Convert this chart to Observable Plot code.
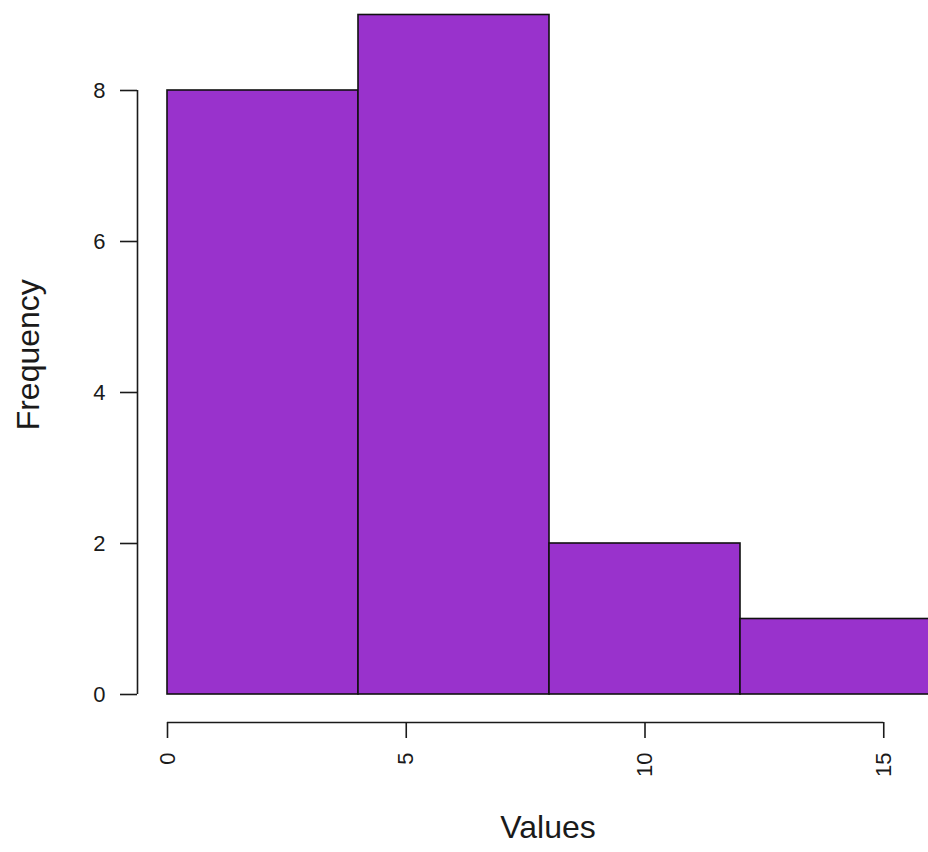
<!DOCTYPE html>
<html>
<head>
<meta charset="utf-8">
<script src="https://cdn.jsdelivr.net/npm/d3@7"></script>
<script src="https://cdn.jsdelivr.net/npm/@observablehq/plot@0.6"></script>
<style>
  html, body { margin: 0; padding: 0; background: #fff; }
  #chart svg { display: block; }
</style>
</head>
<body>
<div id="chart"></div>
<script>
// Histogram data
const binStart = [0, 4, 8, 12];
const binEnd = [4, 8, 12, 16];
const counts = [8, 9, 2, 1];
const xTicks = [0, 5, 10, 15];
const yTicks = [0, 2, 4, 6, 8];
const xTitle = "Values";
const yTitle = "Frequency";

const bins = binStart.map((s, i) => ({x1: s, x2: binEnd[i], count: counts[i]}));

const font = "'Liberation Sans', Arial, Helvetica, sans-serif";
const ink = "#1a1a1a";

const chart = Plot.plot({
  width: 928,
  height: 852,
  marginLeft: 167,
  marginRight: 0,
  marginTop: 14.5,
  marginBottom: 158,
  x: {domain: [0, 16], range: [167, 931]},
  y: {domain: [0, 9]},
  style: {fontFamily: font, fontSize: "22px", color: ink, background: "#fff"},
  marks: [
    Plot.rectY(bins, {x1: "x1", x2: "x2", y: "count", fill: "#9932CC", stroke: "#111", strokeWidth: 1.6}),
    // y axis
    Plot.ruleX([0], {y1: yTicks[0], y2: yTicks[yTicks.length - 1], dx: -30, stroke: ink, strokeWidth: 1.6}),
    Plot.axisY({anchor: "left", ticks: yTicks, tickSize: 17, tickPadding: 15, dx: -30, label: null,
      stroke: ink, strokeWidth: 1.6, fill: ink, fontSize: 22, tickFormat: d => String(d)}),
    // x axis
    Plot.ruleY([0], {x1: xTicks[0], x2: xTicks[xTicks.length - 1], dy: 28, stroke: ink, strokeWidth: 1.6}),
    Plot.axisX({anchor: "bottom", ticks: xTicks, tickSize: 16, dy: 28, label: null,
      stroke: ink, strokeWidth: 1.6, tickFormat: () => ""}),
    Plot.text(xTicks, {x: d => d, y: 0, dy: 58, rotate: -90, textAnchor: "end", lineAnchor: "middle",
      text: d => String(d), fill: ink, fontSize: 22}),
    // titles
    Plot.text([xTitle], {frameAnchor: "bottom", dy: 133, text: d => d, fontSize: 32, fill: ink,
      textAnchor: "middle", lineAnchor: "middle"}),
    Plot.text([yTitle], {frameAnchor: "left", dx: -139, rotate: -90, text: d => d, fontSize: 32, fill: ink,
      textAnchor: "middle", lineAnchor: "middle"})
  ]
});

document.getElementById("chart").append(chart);
</script>
</body>
</html>
